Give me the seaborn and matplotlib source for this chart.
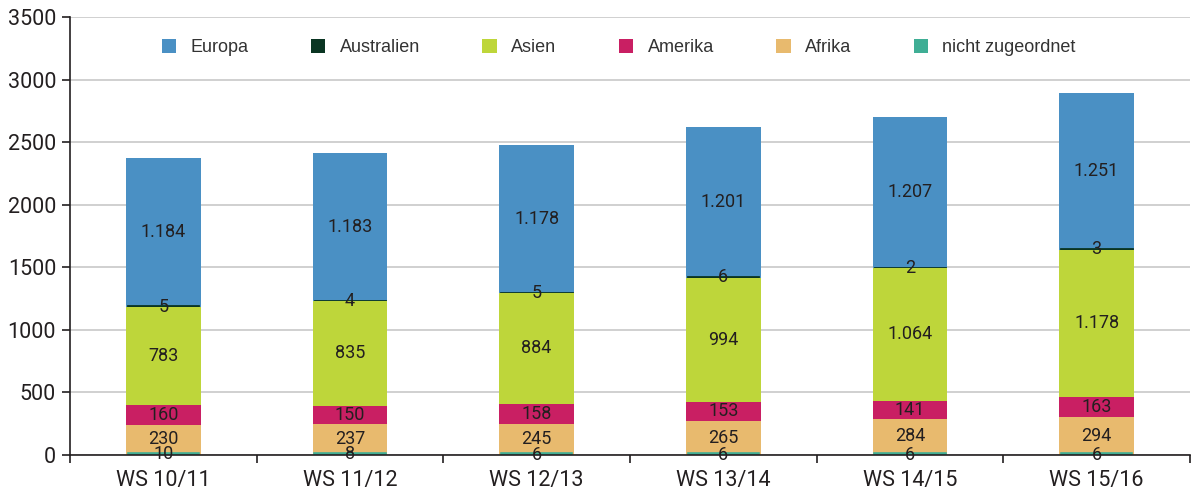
import numpy as np
import pandas as pd
import matplotlib
matplotlib.use('Agg')
import matplotlib.pyplot as plt
import seaborn as sns
from matplotlib.patches import Patch

# Daten
semester = ['WS 10/11', 'WS 11/12', 'WS 12/13', 'WS 13/14', 'WS 14/15', 'WS 15/16']
nicht_zugeordnet = [10, 8, 6, 6, 6, 6]
afrika = [230, 237, 245, 265, 284, 294]
amerika = [160, 150, 158, 153, 141, 163]
asien = [783, 835, 884, 994, 1064, 1178]
australien = [5, 4, 5, 6, 2, 3]
europa = [1184, 1183, 1178, 1201, 1207, 1251]

regionen = ['nicht zugeordnet', 'Afrika', 'Amerika', 'Asien', 'Australien', 'Europa']
farben = {
    'nicht zugeordnet': '#3fae95',
    'Afrika': '#e8ba6e',
    'Amerika': '#c91f63',
    'Asien': '#bed63a',
    'Australien': '#0a3522',
    'Europa': '#4a90c4',
}
legende_reihenfolge = ['Europa', 'Australien', 'Asien', 'Amerika', 'Afrika', 'nicht zugeordnet']

df = pd.DataFrame({
    'nicht zugeordnet': nicht_zugeordnet,
    'Afrika': afrika,
    'Amerika': amerika,
    'Asien': asien,
    'Australien': australien,
    'Europa': europa,
}, index=semester)
kumuliert = df.cumsum(axis=1)

sns.set_theme(style='white')
plt.rcParams['font.family'] = ['Roboto', 'DejaVu Sans']

fig, ax = plt.subplots(figsize=(11.94, 4.96), dpi=100)
fig.subplots_adjust(left=0.0586, right=0.9966, top=0.9657, bottom=0.0827)

# gestapelte Balken: kumulierte Werte von oben nach unten zeichnen
# sehr kleine Segmente bekommen einen Rand, damit sie sichtbar bleiben
breite = 0.4
px_pro_kat = 186.7
duenn = {'Australien': 2.0, 'nicht zugeordnet': 2.6}
for region in reversed(regionen):
    if region in duenn:
        lw = duenn[region]
        # Balken so schmal, dass der Rand nicht seitlich uebersteht
        b = breite - (lw * 100 / 72 + 1.5) / px_pro_kat
        sns.barplot(x=semester, y=kumuliert[region].values, color=farben[region],
                    width=b, saturation=1, ax=ax,
                    linewidth=lw, edgecolor=farben[region])
    else:
        sns.barplot(x=semester, y=kumuliert[region].values, color=farben[region],
                    width=breite, saturation=1, ax=ax, linewidth=0)

# Beschriftungen in den Segmenten
for region in regionen:
    for i, s in enumerate(semester):
        wert = df.loc[s, region]
        mitte = kumuliert.loc[s, region] - wert / 2
        ax.text(i, mitte, f'{wert:,}'.replace(',', '.'), ha='center', va='center',
                fontsize=13, color='#231f20', zorder=5)

ax.set_ylim(0, 3500)
ax.set_xlim(-0.5, len(semester) - 0.5)
ax.set_yticks(np.arange(0, 3501, 500))
ax.yaxis.grid(True, color='#c8c8c8', linewidth=1.2)
ax.set_axisbelow(True)

ax.set_xticks(np.arange(len(semester)))
ax.set_xticklabels(semester)
ax.set_xticks(np.arange(-0.5, len(semester)), minor=True)
ax.tick_params(axis='x', which='major', bottom=False, labelsize=15.5, pad=5, labelcolor='#231f20')
ax.tick_params(axis='x', which='minor', bottom=True, length=6, width=1.2, color='#231f20',
               direction='out')
ax.tick_params(axis='y', left=True, length=6, width=1.2, color='#231f20', direction='out',
               labelsize=15.5, labelcolor='#231f20', pad=4)

for seite in ['top', 'right']:
    ax.spines[seite].set_visible(False)
ax.spines['left'].set_color('#231f20')
ax.spines['left'].set_linewidth(1.2)
ax.spines['bottom'].set_color('#231f20')
ax.spines['bottom'].set_linewidth(1.2)
ax.set_xlabel('')
ax.set_ylabel('')

handles = [Patch(facecolor=farben[r], edgecolor='none', label=r) for r in legende_reihenfolge]
ax.legend(handles=handles, loc='center', bbox_to_anchor=(0.49, 0.93), ncol=6,
          frameon=False, handlelength=0.8, handleheight=0.8, columnspacing=3.45,
          handletextpad=0.8, prop={'family': ['Liberation Sans', 'DejaVu Sans'], 'size': 13},
          labelcolor='#333333')

fig.savefig('out.png', dpi=100)
